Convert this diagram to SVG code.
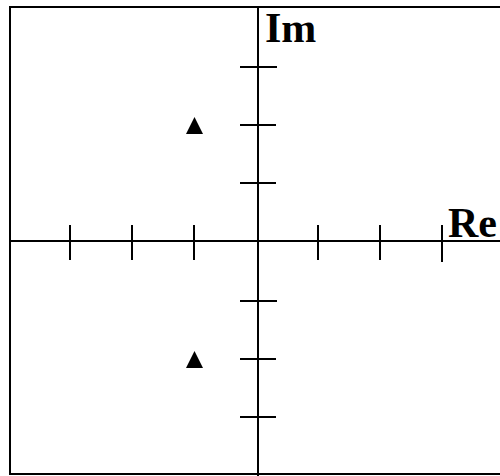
<svg xmlns="http://www.w3.org/2000/svg" width="500" height="476" viewBox="0 0 500 476">
<style>
.ln{stroke:#000;stroke-width:2;fill:none}
.lb{font-family:"Liberation Serif","Times New Roman",serif;font-weight:bold;font-size:42px;fill:#000}
.pt{fill:#000}
</style>
<rect x="0" y="0" width="500" height="476" fill="#fff"/>
<g id="frame"><path class="ln" d="M10,475 V7 H500" stroke="#222"/><path class="ln" d="M10,474 H500"/></g>
<g id="axes">
<path class="ln" d="M10,241 H500 M258,7 V476"/>
<path class="ln" d="M70,225 V260 M132,225 V260 M194,225 V260 M318,225 V260 M380,225 V260 M442,225 V262"/>
<path class="ln" d="M240,67 H277 M240,125 H276 M240,183 H276 M240,301 H277 M240,359 H276 M240,417 H276"/>
</g>
<g id="labels">
<text class="lb" x="265" y="42">Im</text>
<text class="lb" x="448" y="237">Re</text>
</g>
<g id="poles">
<polygon class="pt" points="194.5,117 203,134 186,134"/>
<polygon class="pt" points="194.5,351 203,368 186,368"/>
</g>
</svg>
